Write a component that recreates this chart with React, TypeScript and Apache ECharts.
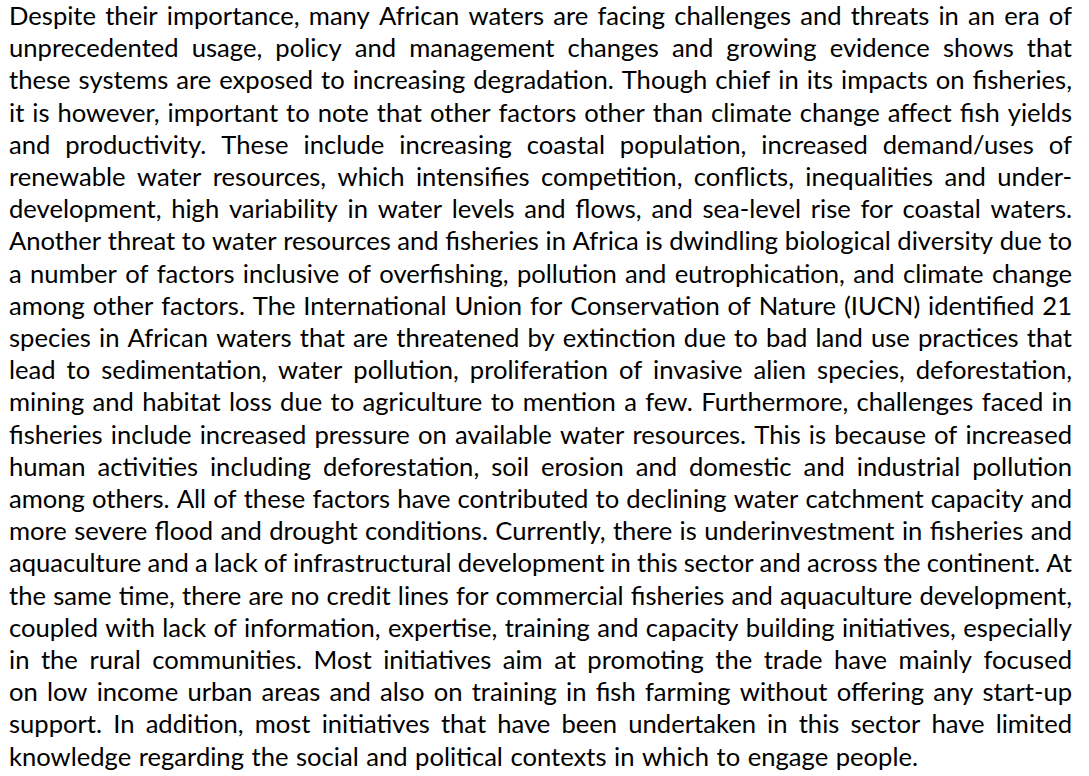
import React, { useEffect, useRef } from "react";
import * as echarts from "echarts";

const paragraphLines: string[] = [
  "Despite their importance, many African waters are facing challenges and threats in an era of",
  "unprecedented usage, policy and management changes and growing evidence shows that",
  "these systems are exposed to increasing degradation. Though chief in its impacts on fisheries,",
  "it is however, important to note that other factors other than climate change affect fish yields",
  "and productivity. These include increasing coastal population, increased demand/uses of",
  "renewable water resources, which intensifies competition, conflicts, inequalities and under-",
  "development, high variability in water levels and flows, and sea-level rise for coastal waters.",
  "Another threat to water resources and fisheries in Africa is dwindling biological diversity due to",
  "a number of factors inclusive of overfishing, pollution and eutrophication, and climate change",
  "among other factors. The International Union for Conservation of Nature (IUCN) identified 21",
  "species in African waters that are threatened by extinction due to bad land use practices that",
  "lead to sedimentation, water pollution, proliferation of invasive alien species, deforestation,",
  "mining and habitat loss due to agriculture to mention a few. Furthermore, challenges faced in",
  "fisheries include increased pressure on available water resources. This is because of increased",
  "human activities including deforestation, soil erosion and domestic and industrial pollution",
  "among others. All of these factors have contributed to declining water catchment capacity and",
  "more severe flood and drought conditions. Currently, there is underinvestment in fisheries and",
  "aquaculture and a lack of infrastructural development in this sector and across the continent. At",
  "the same time, there are no credit lines for commercial fisheries and aquaculture development,",
  "coupled with lack of information, expertise, training and capacity building initiatives, especially",
  "in the rural communities. Most initiatives aim at promoting the trade have mainly focused",
  "on low income urban areas and also on training in fish farming without offering any start-up",
  "support. In addition, most initiatives that have been undertaken in this sector have limited",
  "knowledge regarding the social and political contexts in which to engage people.",
];

const FONT_FAMILY = "Lato";
const FONT_SIZE = 25.6;
const LEFT = 9;
const RIGHT = 1072;
const FIRST_BASELINE = 28;
const LINE_STEP = 32.2;

function buildElements() {
  const canvas = document.createElement("canvas");
  const ctx = canvas.getContext("2d")!;
  ctx.font = `${FONT_SIZE}px ${FONT_FAMILY}`;
  const spaceW = ctx.measureText(" ").width;
  const elements: any[] = [];
  paragraphLines.forEach((line, li) => {
    const words = line.split(" ");
    const widths = words.map((w) => ctx.measureText(w).width);
    const total = widths.reduce((a, b) => a + b, 0);
    const isLast = li === paragraphLines.length - 1;
    const gap = isLast || words.length < 2 ? spaceW * 1.15 : (RIGHT - LEFT - total) / (words.length - 1);
    let x = LEFT;
    const y = FIRST_BASELINE + li * LINE_STEP;
    words.forEach((w, wi) => {
      elements.push({
        type: "text",
        x,
        y,
        silent: true,
        style: {
          text: w,
          fill: "#000000",
          font: `${FONT_SIZE}px ${FONT_FAMILY}`,
          textAlign: "left",
          textVerticalAlign: "bottom",
        },
      });
      x += widths[wi] + gap;
    });
  });
  return elements;
}

export default function App() {
  const ref = useRef<HTMLDivElement>(null);
  useEffect(() => {
    if (!ref.current) return;
    const chart = echarts.init(ref.current, null, { renderer: "svg" });
    chart.setOption({
      animation: false,
      backgroundColor: "#ffffff",
      graphic: { elements: buildElements() },
    });
    return () => chart.dispose();
  }, []);
  return (
    <div
      ref={ref}
      style={{ position: "fixed", left: 0, top: 0, width: 1089, height: 776, background: "#fff" }}
    />
  );
}
